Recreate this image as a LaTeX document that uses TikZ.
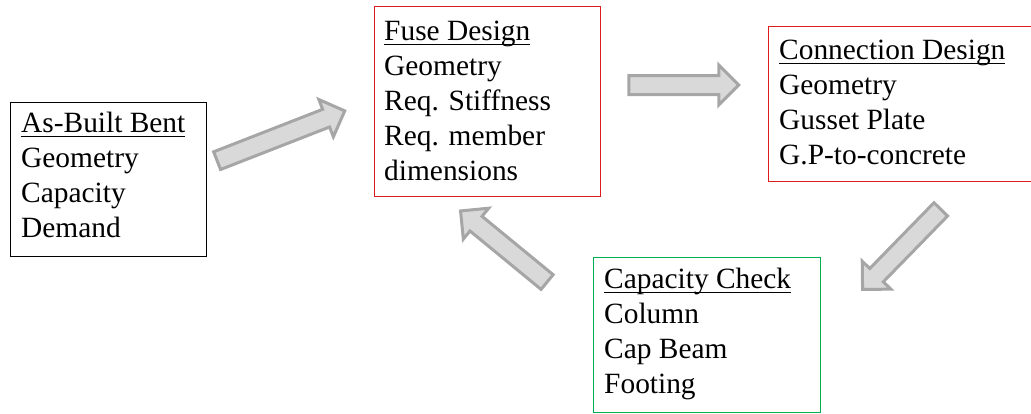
\documentclass[tikz,border=0pt]{standalone}
\usepackage{fontspec}
\setmainfont{Liberation Serif}
\usetikzlibrary{positioning, calc, shapes.arrows}
\definecolor{designred}{RGB}{220, 30, 30}
\definecolor{checkgreen}{RGB}{0, 176, 80}
\definecolor{arrowfill}{RGB}{217, 217, 217}
\definecolor{arrowline}{RGB}{166, 166, 166}
\newcommand{\headline}[1]{\setbox0\hbox{#1}\rlap{\rule[-5pt]{\wd0}{1.4pt}}\box0}

\begin{document}
\begin{tikzpicture}[x=1pt, y=-1pt,
    stagebox/.style={draw=#1, line width=1pt, inner sep=0pt, anchor=north west},
    stagetext/.style={anchor=base west, align=left, inner sep=0pt, font=\fontsize{29.4}{35}\selectfont},
    flow/.style={single arrow, draw=arrowline, fill=arrowfill, line width=3pt, inner xsep=0pt, inner ysep=8pt,
        single arrow head extend=10.5pt, single arrow tip angle=90}]
    \useasboundingbox (0,0) rectangle (1031,413);

    % Box: As-Built Bent (text placed at its last baseline)
    \node[stagebox=black, minimum width=196pt, minimum height=154pt] (bent) at (9.5,101.5) {};
    \node[stagetext] (bentText) at (21,237) {\headline{As-Built Bent}\\Geometry\\Capacity\\Demand};

    % Box: Fuse Design
    \node[stagebox=designred, minimum width=226pt, minimum height=190pt] (fuse) at (373.5,5.5) {};
    \node[stagetext] (fuseText) at (384,180) {\headline{Fuse Design}\\Geometry\\Req. Stiffness\\Req. member\\dimensions};

    % Box: Connection Design
    \node[stagebox=designred, minimum width=280pt, minimum height=155pt] (conn) at (767.5,25.5) {};
    \node[stagetext] (connText) at (779,164) {\headline{Connection Design}\\Geometry\\Gusset Plate\\G.P-to-concrete};

    % Box: Capacity Check
    \node[stagebox=checkgreen, minimum width=227pt, minimum height=155pt] (check) at (592.5,256.5) {};
    \node[stagetext] (checkText) at (604,393) {\headline{Capacity Check}\\Column\\Cap Beam\\Footing};

    % Block arrows
    \node[flow, minimum height=137pt, rotate=21.3] (toFuse) at (276.5,137.5) {};
    \node[flow, minimum height=110pt] (toConn) at (679,85) {};
    \node[flow, minimum height=112pt, rotate=225.7] (toCheck) at (905,246) {};
    \node[flow, minimum height=112pt, rotate=140.6] (backFuse) at (507.5,249.5) {};
\end{tikzpicture}
\end{document}
